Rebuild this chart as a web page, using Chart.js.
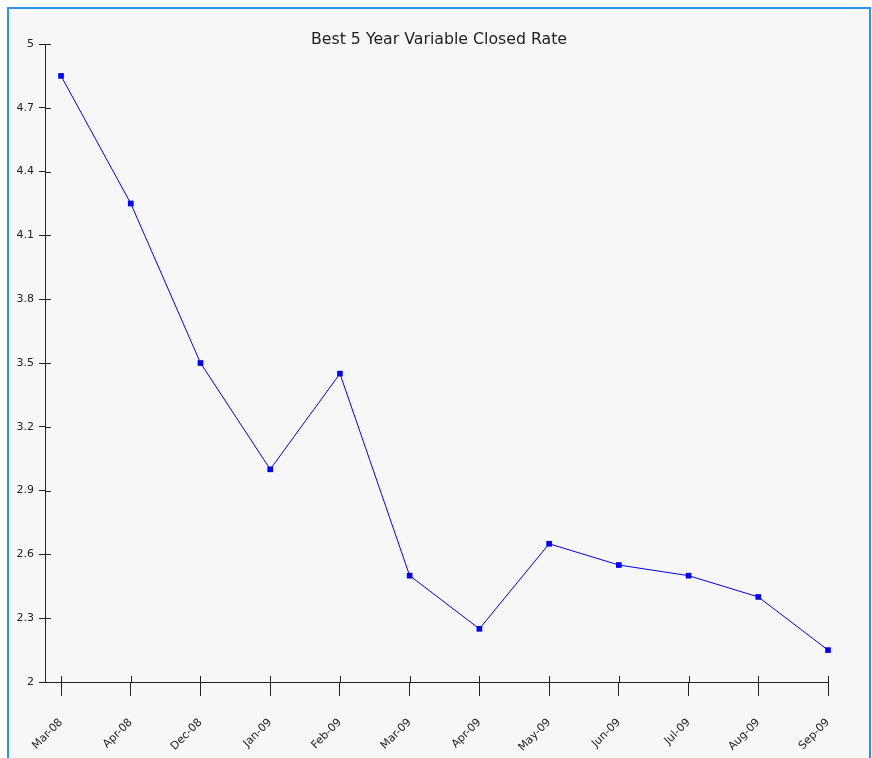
<!DOCTYPE html>
<html>
<head>
<meta charset="utf-8">
<style>
  html, body { margin: 0; padding: 0; background: #ffffff; }
  #wrap { position: relative; width: 872px; height: 758px; }
</style>
<script src="https://cdn.jsdelivr.net/npm/chart.js@4"></script>
</head>
<body>
<div id="wrap"><canvas id="c" width="872" height="758"></canvas></div>
<script>
const categories = ['Mar-08','Apr-08','Dec-08','Jan-09','Feb-09','Mar-09','Apr-09','May-09','Jun-09','Jul-09','Aug-09','Sep-09'];
const rates = [4.85, 4.25, 3.5, 3.0, 3.45, 2.5, 2.25, 2.65, 2.55, 2.5, 2.4, 2.15];
const yTickValues = [2, 2.3, 2.6, 2.9, 3.2, 3.5, 3.8, 4.1, 4.4, 4.7, 5];
const yTickLabels = ['2', '2.3', '2.6', '2.9', '3.2', '3.5', '3.8', '4.1', '4.4', '4.7', '5'];
const chartTitle = 'Best 5 Year Variable Closed Rate';

const frame = {
  id: 'frame',
  beforeDraw(chart) {
    const ctx = chart.ctx;
    ctx.save();
    ctx.fillStyle = '#f7f7f7';
    ctx.fillRect(8, 8, 862, 760);
    ctx.strokeStyle = '#2a92f5';
    ctx.lineWidth = 2;
    ctx.strokeRect(8, 8, 862, 770);
    ctx.restore();
  },
  afterDraw(chart) {
    const ctx = chart.ctx;
    const a = chart.chartArea;
    const xs = chart.scales.x, ys = chart.scales.y;
    ctx.save();
    // inner halves of tick marks, placed by the library's scales
    ctx.strokeStyle = '#222';
    ctx.lineWidth = 1;
    ctx.beginPath();
    xs.ticks.forEach(t => {
      const px = Math.round(xs.getPixelForValue(t.value)) + 0.5;
      ctx.moveTo(px, a.bottom); ctx.lineTo(px, a.bottom - 6);
    });
    ys.ticks.forEach(t => {
      const py = Math.round(ys.getPixelForValue(t.value)) + 0.5;
      ctx.moveTo(a.left, py); ctx.lineTo(a.left + 6, py);
    });
    ctx.stroke();
    // title
    ctx.fillStyle = '#222';
    ctx.font = '15.75px "DejaVu Sans"';
    ctx.textAlign = 'center';
    ctx.textBaseline = 'alphabetic';
    ctx.fillText(chartTitle, 439, 44);
    ctx.restore();
  }
};

new Chart(document.getElementById('c'), {
  type: 'line',
  data: {
    datasets: [{
      data: rates.map((v, i) => ({ x: i, y: v })),
      borderColor: '#0000ff',
      backgroundColor: '#0000ff',
      borderWidth: 1,
      pointStyle: 'rect',
      pointRadius: 4,
      pointHoverRadius: 4,
      pointBorderWidth: 0,
      tension: 0,
      fill: false,
      clip: false
    }]
  },
  options: {
    responsive: false,
    animation: false,
    devicePixelRatio: 1,
    layout: { padding: { left: 0, right: 44, top: 44, bottom: 0 } },
    plugins: {
      legend: { display: false },
      tooltip: { enabled: false },
      title: { display: false }
    },
    scales: {
      x: {
        type: 'linear',
        min: -0.23,
        max: 11,
        afterBuildTicks: s => { s.ticks = categories.map((_, i) => ({ value: i })); },
        afterFit: s => { s.height = 76; s.paddingLeft = 0; s.paddingRight = 0; },
        ticks: {
          autoSkip: false,
          maxRotation: 45,
          minRotation: 45,
          padding: 20,
          color: '#222',
          font: { family: 'DejaVu Sans', size: 11 },
          callback: (v) => categories[v]
        },
        grid: { drawOnChartArea: false, tickLength: 14, color: '#222', tickColor: '#222' },
        border: { display: true, color: '#222', width: 1 }
      },
      y: {
        type: 'linear',
        min: 2,
        max: 5,
        afterBuildTicks: s => { s.ticks = yTickValues.map(v => ({ value: v })); },
        afterFit: s => { s.width = 45; s.paddingTop = 0; s.paddingBottom = 0; },
        ticks: {
          padding: 5,
          color: '#222',
          font: { family: 'DejaVu Sans', size: 11 },
          callback: (v) => yTickLabels[yTickValues.indexOf(v)]
        },
        grid: { drawOnChartArea: false, tickLength: 6, color: '#222', tickColor: '#222' },
        border: { display: true, color: '#222', width: 1 }
      }
    }
  },
  plugins: [frame]
});
</script>
</body>
</html>
